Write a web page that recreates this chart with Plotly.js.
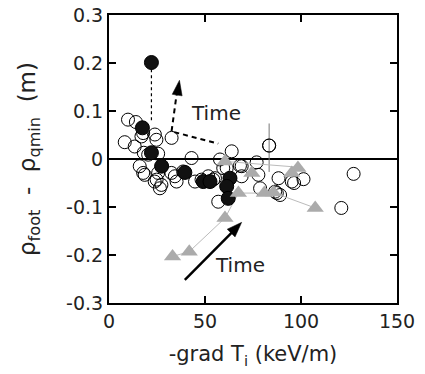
<!DOCTYPE html>
<html>
<head>
<meta charset="utf-8">
<script src="https://cdn.plot.ly/plotly-3.0.1.min.js"></script>
<style>html,body{margin:0;padding:0;background:#fff;}#chart{width:425px;height:374px;}</style>
</head>
<body>
<div id="chart"></div>
<script>
// Open circles
const openX = [9.9,14.0,8.2,16.9,17.8,23.9,24.7,13.4,32.6,18.1,20.4,25.6,16.0,17.8,18.6,24.8,23.8,26.5,27.3,25.6,32.5,34.3,35.2,38.6,43.0,44.8,48.2,51.7,54.3,55.2,57.8,59.5,61.3,63.9,56.9,68.2,69.1,69.1,76.9,77.8,78.7,83.4,86.5,88.3,89.1,87.4,95.2,96.4,101.3,121.0,127.4];
const openY = [0.082,0.077,0.035,0.047,0.054,0.051,0.040,0.026,0.044,0.013,0.009,0.011,-0.015,-0.029,-0.033,-0.043,-0.047,-0.061,-0.054,-0.029,-0.029,-0.036,-0.047,-0.026,0.002,-0.047,-0.043,-0.036,-0.043,-0.040,-0.001,-0.019,-0.019,0.016,-0.089,-0.014,-0.036,-0.015,-0.007,-0.033,-0.061,0.028,-0.068,-0.040,-0.075,-0.071,-0.047,-0.050,-0.042,-0.102,-0.031];
// Error bar on one open circle
const errX = [83.4];
const errY = [0.028];
const errPlus = [0.046];
const errMinus = [0.055];
// Filled circles
const filledX = [22.1,17.4,22.1,27.4,39.5,49.1,52.6,63.0,61.3,62.1];
const filledY = [0.201,0.065,0.013,-0.015,-0.028,-0.047,-0.047,-0.040,-0.057,-0.082];
// Gray triangles, series A (connected)
const triAX = [33.1,41.8,60.4,67.4,80.9,85.6,107.4];
const triAY = [-0.203,-0.193,-0.123,-0.071,-0.071,-0.070,-0.102];
// Gray triangles, series B
const triBX = [60.4,74.4,95.2,98.4];
const triBY = [-0.005,-0.029,-0.029,-0.019];
const triBLineX = [60.4,98.4];
const triBLineY = [-0.005,-0.017];
// Ticks
const yTickVals = [-0.3,-0.2,-0.1,0,0.1,0.2,0.3];
const yTickText = ["-0.3","-0.2","-0.1","0","0.1","0.2","0.3"];
const xTickVals = [0,50,100,150];
const xTickText = ["0","50","100","150"];

const X0 = 0, X1 = 150, Y0 = -0.3, Y1 = 0.3;
const ML = 109, MR = 28, MT = 15, MB = 71, W = 425, H = 374;
const sx = (W - ML - MR) / (X1 - X0);   // px per x unit
const sy = (H - MT - MB) / (Y1 - Y0);   // px per y unit

// arrowhead as a filled path in data coordinates, from tip and a tail point
function arrowHead(tx, ty, fx, fy, len, half) {
  const dxp = (tx - fx) * sx, dyp = (ty - fy) * sy;
  const L = Math.hypot(dxp, dyp);
  const ux = dxp / L, uy = dyp / L;
  const bx = -ux * len, by = -uy * len;
  const px = -uy * half, py = ux * half;
  const p1 = [tx + (bx + px) / sx, ty + (by + py) / sy];
  const p2 = [tx + (bx - px) / sx, ty + (by - py) / sy];
  return {type: "path", xref: "x", yref: "y",
    path: `M ${tx} ${ty} L ${p1[0]} ${p1[1]} L ${p2[0]} ${p2[1]} Z`,
    fillcolor: "#000", line: {color: "#000", width: 0.5}};
}

const gray = "#ababab";
const traces = [
  {x: openX, y: openY, mode: "markers", type: "scatter",
   marker: {symbol: "circle", size: 13, color: "rgba(255,255,255,0)", line: {color: "#000", width: 1}}},
  {x: errX, y: errY, mode: "markers", type: "scatter",
   marker: {symbol: "circle", size: 13, color: "rgba(255,255,255,0)", line: {color: "#000", width: 1}},
   error_y: {type: "data", array: errPlus, arrayminus: errMinus, symmetric: false, color: "#777", thickness: 1, width: 0}},
  {x: triAX, y: triAY, mode: "lines", type: "scatter", line: {color: "#bbbbbb", width: 1}},
  {x: triBLineX, y: triBLineY, mode: "lines", type: "scatter", line: {color: "#bbbbbb", width: 1}},
  {x: filledX, y: filledY, mode: "markers", type: "scatter",
   marker: {symbol: "circle", size: 14, color: "#111", line: {color: "#000", width: 1}}},
  {x: triAX, y: triAY, mode: "markers", type: "scatter",
   marker: {symbol: "triangle-up", size: 15, color: gray, line: {width: 0}}},
  {x: triBX, y: triBY, mode: "markers", type: "scatter",
   marker: {symbol: "triangle-up", size: 15, color: gray, line: {width: 0}}}
];

const fontFam = "DejaVu Sans, Liberation Sans, Arial, sans-serif";
const txtCol = "#222";
const layout = {
  width: W, height: H,
  margin: {l: ML, r: MR, t: MT, b: MB},
  paper_bgcolor: "#fff", plot_bgcolor: "#fff",
  showlegend: false,
  font: {family: fontFam, size: 19, color: txtCol},
  xaxis: {
    range: [X0, X1], tickvals: xTickVals, ticktext: xTickText,
    ticks: "inside", ticklen: 7, tickwidth: 2, tickcolor: "#000",
    showline: true, linecolor: "#000", linewidth: 2, mirror: "ticks",
    showgrid: false, zeroline: false,
    tickfont: {size: 19, family: fontFam, color: txtCol},
    title: {text: "-grad T<sub>i</sub> (keV/m)", font: {size: 21, family: fontFam, color: txtCol}, standoff: 16}
  },
  yaxis: {
    range: [Y0, Y1], tickvals: yTickVals, ticktext: yTickText,
    ticks: "inside", ticklen: 7, tickwidth: 2, tickcolor: "#000",
    showline: true, linecolor: "#000", linewidth: 2, mirror: "ticks",
    showgrid: false, zeroline: true, zerolinecolor: "#000", zerolinewidth: 1.5,
    tickfont: {size: 19, family: fontFam, color: txtCol},
    title: {text: "ρ<sub>foot</sub>  -  ρ<sub>qmin</sub>  (m)", font: {size: 23, family: fontFam, color: txtCol}, standoff: 24}
  },
  shapes: [
    {type: "line", xref: "x", yref: "y", x0: 22.1, y0: 0.187, x1: 22.1, y1: 0.075, line: {color: "#000", width: 1.2, dash: "3px,3px"}},
    {type: "line", xref: "x", yref: "y", x0: 34.0, y0: 0.056, x1: 56.9, y1: 0.032, line: {color: "#000", width: 2, dash: "5px,4px"}},
    {type: "line", xref: "x", yref: "y", x0: 32.6, y0: 0.058, x1: 35.4, y1: 0.140, line: {color: "#000", width: 2, dash: "5px,4px"}},
    arrowHead(36.7, 0.164, 32.6, 0.058, 15, 5),
    {type: "line", xref: "x", yref: "y", x0: 39.5, y0: -0.252, x1: 66.5, y1: -0.143, line: {color: "#000", width: 2.5}},
    arrowHead(69.1, -0.132, 39.5, -0.252, 15, 5.5)
  ],
  annotations: [
    {xref: "x", yref: "y", x: 55.6, y: 0.096, text: "Time", showarrow: false, font: {size: 20, family: fontFam, color: txtCol}},
    {xref: "x", yref: "y", x: 68.3, y: -0.221, text: "Time", showarrow: false, font: {size: 20, family: fontFam, color: txtCol}}
  ]
};
Plotly.newPlot("chart", traces, layout, {displayModeBar: false, staticPlot: true});
</script>
</body>
</html>
